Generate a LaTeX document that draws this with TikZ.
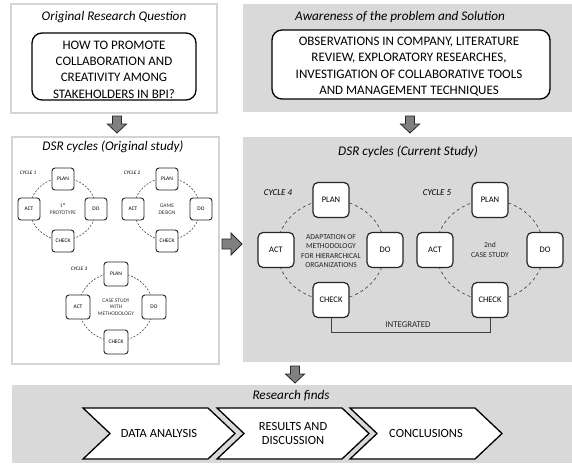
\documentclass[tikz,border=0pt]{standalone}
\usepackage{fontspec}
\setmainfont{Carlito}
\begin{document}
\begin{tikzpicture}[x=1pt,y=-1pt,
  panelw/.style={draw=black!17,line width=1.2pt,fill=white},
  panelg/.style={fill=black!15,draw=none},
  bigbox/.style={draw=black,line width=1.3pt,rounded corners=10pt,fill=white,inner sep=0pt},
  bigtxt/.style={align=center,font=\fontsize{13}{16.3}\selectfont,inner sep=0pt},
  ptitle/.style={font=\fontsize{13.2}{15}\selectfont\itshape,inner sep=0pt},
  sbox/.style={draw=black!85,line width=0.9pt,rounded corners=3pt,fill=white,minimum width=22pt,minimum height=22pt,inner sep=0pt,font=\fontsize{5.5}{6}\selectfont},
  lbox/.style={draw=black!85,line width=1.2pt,rounded corners=5pt,fill=white,minimum width=36pt,minimum height=35pt,inner sep=0pt,font=\fontsize{8.5}{10}\selectfont},
  cyc/.style={draw=black!80,dashed,line width=0.6pt},
  scyc/.style={draw=black!80,line width=0.5pt,dash pattern=on 2pt off 1.5pt},
  stxt/.style={font=\fontsize{5.5}{6.5}\selectfont,align=center,text=black!80,inner sep=0pt},
  ltxt/.style={font=\fontsize{7.6}{9.4}\selectfont,align=center,text=black!85,inner sep=0pt},
  scl/.style={font=\fontsize{5.2}{6}\selectfont\itshape,inner sep=0pt},
  lcl/.style={font=\fontsize{9}{10}\selectfont\itshape,inner sep=0pt},
  blockarrow/.style={fill=black!50,draw=black!85,line width=0.8pt},
  chev/.style={draw=black,line width=1.3pt,fill=white},
  chevtxt/.style={font=\fontsize{12.5}{14.5}\selectfont,align=center,inner sep=0pt},
  pics/downarr/.style={code={\draw[blockarrow] (-4.5,0) -- (4.5,0) -- (4.5,8) -- (9.5,8) -- (0,17) -- (-9.5,8) -- (-4.5,8) -- cycle;}},
  pics/rightarr/.style={code={\draw[blockarrow] (0,-5) -- (9,-5) -- (9,-11) -- (20,0) -- (9,11) -- (9,5) -- (0,5) -- cycle;}}
]
\useasboundingbox (0,0) rectangle (572,463);

% ---------- panels ----------
\draw[panelw] (11,4) rectangle (217,113);
\fill[panelg] (243,4) rectangle (572,112);
\draw[panelw] (12,137) rectangle (219,364);
\fill[panelg] (243,137) rectangle (572,362);
\fill[panelg] (12,385) rectangle (572,463);

% ---------- top-left ----------
\node[ptitle] (t1) at (114,17) {Original Research Question};
\node[bigbox,minimum width=164pt,minimum height=67pt] (q1) at (114,66.5) {};
\node[bigtxt] (q1t) at (114,69.5)
  {HOW TO PROMOTE\\COLLABORATION AND\\CREATIVITY AMONG\\STAKEHOLDERS IN BPI?};
\pic at (117,116) {downarr};

% ---------- top-right ----------
\node[ptitle] (t2) at (400,17) {Awareness of the problem and Solution};
\node[bigbox,minimum width=278pt,minimum height=69pt] (q2) at (411,64.5) {};
\node[bigtxt] (q2t) at (409,66.5)
  {OBSERVATIONS IN COMPANY, LITERATURE\\REVIEW, EXPLORATORY RESEARCHES,\\INVESTIGATION OF COLLABORATIVE TOOLS\\AND MANAGEMENT TECHNIQUES};
\pic at (410,116) {downarr};

% ---------- middle-left ----------
\node[ptitle] (t3) at (113,147) {DSR cycles (Original study)};

% cycle 1
\draw[scyc] (63,209) ellipse (33pt and 31pt);
\node[sbox] (p1) at (63,179) {PLAN};
\node[sbox] (a1) at (29,209) {ACT};
\node[sbox] (d1) at (96,209) {DO};
\node[sbox] (c1) at (63,241) {CHECK};
\node[stxt] (m1) at (63,209) {1\textsuperscript{st}\\PROTOTYPE};
\node[scl] (l1) at (28,173) {CYCLE 1};

% cycle 2
\draw[scyc] (167,209) ellipse (33pt and 31pt);
\node[sbox] (p2) at (167,179) {PLAN};
\node[sbox] (a2) at (133,209) {ACT};
\node[sbox] (d2) at (201,209) {DO};
\node[sbox] (c2) at (167,241) {CHECK};
\node[stxt] (m2) at (167,209) {GAME\\DESIGN};
\node[scl] (l2) at (132,173) {CYCLE 2};

% cycle 3
\draw[scyc] (116,307) ellipse (37pt and 34pt);
\node[sbox,minimum width=24pt,minimum height=24pt] (p3) at (116,274) {PLAN};
\node[sbox,minimum width=24pt,minimum height=24pt] (a3) at (78,307) {ACT};
\node[sbox,minimum width=24pt,minimum height=24pt] (d3) at (154,307) {DO};
\node[sbox,minimum width=24pt,minimum height=24pt] (c3) at (116,342) {CHECK};
\node[stxt] (m3) at (116,307) {CASE STUDY\\WITH\\METHODOLOGY};
\node[scl] (l3) at (79,269) {CYCLE 3};

\pic at (222,244) {rightarr};

% ---------- middle-right ----------
\node[ptitle] (t4) at (408,152) {DSR cycles (Current Study)};

% cycle 4
\draw[cyc] (331,250) ellipse (54pt and 50pt);
\node[lbox] (p4) at (331,200) {PLAN};
\node[lbox] (a4) at (276,250) {ACT};
\node[lbox] (d4) at (385,250) {DO};
\node[lbox] (c4) at (331,300) {CHECK};
\node[ltxt] (m4) at (331,251) {ADAPTATION OF\\METHODOLOGY\\FOR HIERARCHICAL\\ORGANIZATIONS};
\node[lcl] (l4) at (278,193) {CYCLE 4};

% cycle 5
\draw[cyc] (490,250) ellipse (54pt and 50pt);
\node[lbox] (p5) at (490,200) {PLAN};
\node[lbox] (a5) at (435,250) {ACT};
\node[lbox] (d5) at (545,250) {DO};
\node[lbox] (c5) at (490,300) {CHECK};
\node[ltxt] (m5) at (490,250) {2nd\\CASE STUDY};
\node[lcl] (l5) at (437,193) {CYCLE 5};

% integrated bracket
\coordinate (i4) at (331,332);
\coordinate (i5) at (490,332);
\draw[black!75,line width=0.7pt] (c4.south) -- (i4) -- (i5) -- (c5.south);
\node[font=\fontsize{8.8}{10}\selectfont,text=black!85,inner sep=0pt] (ig) at (408,325) {INTEGRATED};

\pic at (295,366) {downarr};

% ---------- bottom ----------
\node[ptitle] (t5) at (291,396) {Research finds};
\foreach \L/\nm in {83/ch1,217/ch2,350/ch3}{
  \draw[chev] (\L,408) -- ++(125,0) -- ++(27,25.5) -- ++(-27,25.5) -- ++(-125,0) -- ++(27,-25.5) -- cycle;
  \coordinate (\nm) at (\L+76,433.5);
}
\node[chevtxt] (x1) at (ch1) {DATA ANALYSIS};
\node[chevtxt] (x2) at (ch2) {RESULTS AND\\DISCUSSION};
\node[chevtxt] (x3) at (ch3) {CONCLUSIONS};
\end{tikzpicture}
\end{document}
